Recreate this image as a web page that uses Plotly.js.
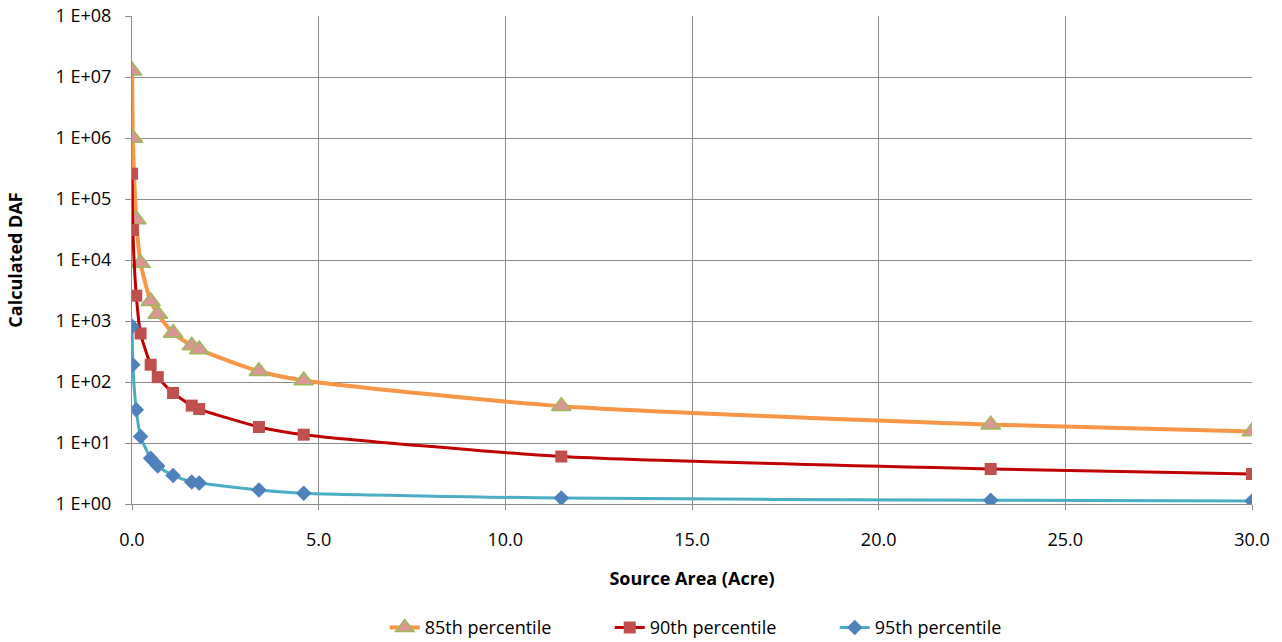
<!DOCTYPE html>
<html>
<head>
<meta charset="utf-8">
<script src="https://cdn.plot.ly/plotly-3.0.1.min.js"></script>
<style>html,body{margin:0;padding:0;background:#fff;}#chart{width:1282px;height:642px;}</style>
</head>
<body>
<div id="chart"></div>
<script>
const sourceArea = [0.0023, 0.023, 0.115, 0.23, 0.5, 0.69, 1.1, 1.6, 1.8, 3.4, 4.6, 11.5, 23.0, 30.0];
const p85 = [12700000, 1000000, 46000, 8900, 2100, 1300, 635, 395, 340, 150, 106, 40, 20, 15.5];
const p90 = [260000, 31000, 2600, 625, 192, 120, 66, 41, 36, 18.3, 13.7, 6.0, 3.75, 3.1];
const p95 = [815, 192, 35, 12.8, 5.6, 4.2, 2.94, 2.3, 2.2, 1.7, 1.5, 1.25, 1.15, 1.12];
const seriesNames = ['85th percentile', '90th percentile', '95th percentile'];
const yTickVals = [1, 10, 100, 1000, 10000, 100000, 1000000, 10000000, 100000000];
const yTickText = ['1 E+00', '1 E+01', '1 E+02', '1 E+03', '1 E+04', '1 E+05', '1 E+06', '1 E+07', '1 E+08'];
const xTickVals = [0, 5, 10, 15, 20, 25, 30];

const FONT = '"Open Sans", sans-serif';
const FS = 18;
const traces = [
  {x: sourceArea, y: p85, name: seriesNames[0], mode: 'lines+markers', type: 'scatter',
   line: {color: '#F79646', width: 4, shape: 'spline', smoothing: 0.6},
   marker: {symbol: 'triangle-up', size: 17, color: '#D99694', line: {color: '#9BBB59', width: 1.5}}},
  {x: sourceArea, y: p90, name: seriesNames[1], mode: 'lines+markers', type: 'scatter',
   line: {color: '#C00000', width: 3, shape: 'spline', smoothing: 0.6},
   marker: {symbol: 'square', size: 12, color: '#C0504D', line: {width: 0}}},
  {x: sourceArea, y: p95, name: seriesNames[2], mode: 'lines+markers', type: 'scatter',
   line: {color: '#4BACC6', width: 3, shape: 'spline', smoothing: 0.6},
   marker: {symbol: 'diamond', size: 12, color: '#4F81BD', line: {width: 0}}}
];
const layout = {
  width: 1282, height: 642,
  margin: {l: 132, r: 30, t: 16, b: 138},
  paper_bgcolor: '#ffffff', plot_bgcolor: '#ffffff',
  font: {family: FONT, size: FS, color: '#000'},
  showlegend: true,
  legend: {orientation: 'h', x: 0.527, xanchor: 'center', yref: 'container', y: 0.051, yanchor: 'top',
           font: {family: FONT, size: FS, color: '#000'}, traceorder: 'normal', entrywidth: 180},
  xaxis: {range: [0, 30], tickvals: xTickVals, tickformat: '.1f', showgrid: true, gridcolor: '#8c8c8c', gridwidth: 1,
          zeroline: false, showline: true, linecolor: '#8c8c8c', ticks: 'outside', ticklen: 5, tickcolor: '#8c8c8c',
          ticklabelstandoff: 14, tickfont: {family: FONT, size: FS},
          title: {text: '<b>Source Area (Acre)</b>', font: {family: FONT, size: FS}, standoff: 22}},
  yaxis: {type: 'log', range: [0, 8], tickvals: yTickVals, ticktext: yTickText, showgrid: true, gridcolor: '#8c8c8c', gridwidth: 1,
          zeroline: false, showline: true, linecolor: '#8c8c8c', ticks: 'outside', ticklen: 6, tickcolor: '#8c8c8c',
          ticklabelstandoff: 10, tickfont: {family: FONT, size: FS},
          title: {text: '<b>Calculated DAF</b>', font: {family: FONT, size: FS}, standoff: 28}}
};
Plotly.newPlot('chart', traces, layout, {displayModeBar: false, staticPlot: true});
</script>
</body>
</html>
